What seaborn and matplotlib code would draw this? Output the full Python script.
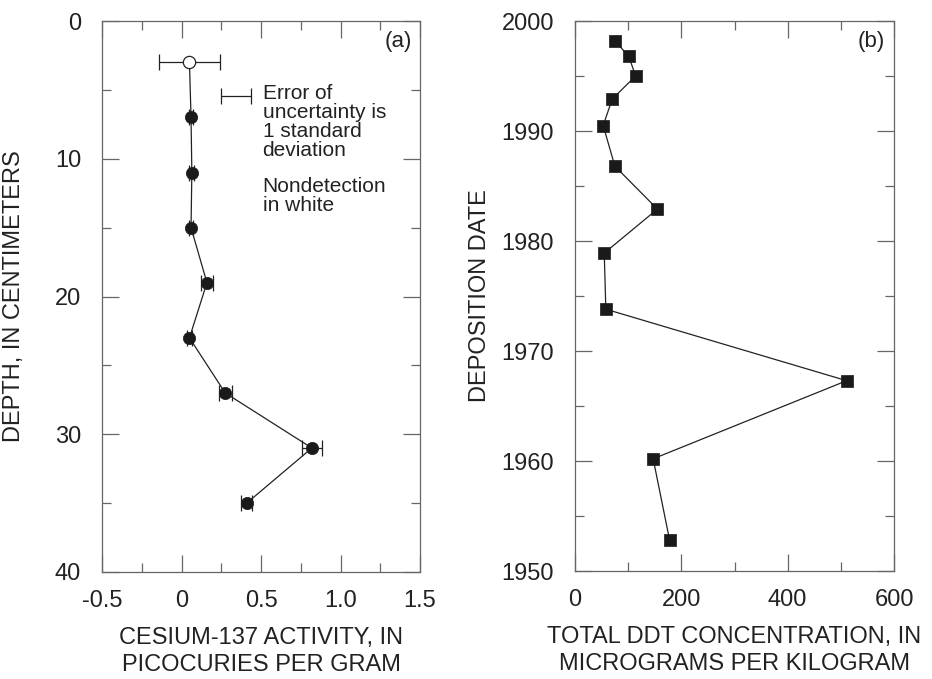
import matplotlib
matplotlib.use("Agg")
import matplotlib.pyplot as plt
from matplotlib.ticker import MultipleLocator
import seaborn as sns
import pandas as pd

# Panel (a): cesium-137 activity profile
depth_cm = [3, 7, 11, 15, 19, 23, 27, 31, 35]
cesium_pci_g = [0.05, 0.06, 0.065, 0.06, 0.16, 0.05, 0.275, 0.82, 0.41]
cesium_sd = [0.19, 0.015, 0.015, 0.015, 0.037, 0.015, 0.04, 0.063, 0.033]
detected = [False, True, True, True, True, True, True, True, True]

# Panel (b): total DDT by deposition date
deposition_year = [1998.2, 1996.8, 1995.0, 1992.9, 1990.5, 1986.8, 1982.9,
                   1978.9, 1973.8, 1967.3, 1960.2, 1952.8]
ddt_ug_kg = [75, 101, 114, 70, 53, 75, 155, 55, 58, 511, 147, 178]

sns.set_theme(style="ticks")
plt.rcParams["font.family"] = ["Liberation Sans", "DejaVu Sans"]
plt.rcParams["text.color"] = "#222222"
plt.rcParams["axes.labelcolor"] = "#222222"
plt.rcParams["xtick.color"] = "#666666"
plt.rcParams["ytick.color"] = "#666666"
plt.rcParams["xtick.labelcolor"] = "#222222"
plt.rcParams["ytick.labelcolor"] = "#222222"

FS_TICK = 17
FS_LABEL = 17
FS_NOTE = 15
FS_PANEL = 16
SPINE = "#666666"
INK = "#222222"

fig = plt.figure(figsize=(9.32, 6.79), dpi=100)
ax_a = fig.add_axes([102 / 932, 1 - 572 / 679, 318 / 932, 551 / 679])
ax_b = fig.add_axes([575 / 932, 1 - 571 / 679, 319 / 932, 550 / 679])

cs = pd.DataFrame({"depth": depth_cm, "cs": cesium_pci_g, "sd": cesium_sd,
                   "det": detected})
ddt = pd.DataFrame({"year": deposition_year, "ddt": ddt_ug_kg})

# --- panel (a)
ax_a.errorbar(cs["cs"], cs["depth"], xerr=cs["sd"], fmt="none",
              ecolor=INK, elinewidth=0.9, capsize=5.5, capthick=0.9,
              zorder=2)
sns.lineplot(data=cs, x="cs", y="depth", sort=False, estimator=None,
             color=INK, linewidth=0.9, ax=ax_a, zorder=3)
sns.scatterplot(data=cs[cs["det"]], x="cs", y="depth", color="#1a1a1a",
                s=78, edgecolor="#1a1a1a", linewidth=0.5, ax=ax_a, zorder=4)
sns.scatterplot(data=cs[~cs["det"]], x="cs", y="depth", color="white",
                s=78, edgecolor=INK, linewidth=0.9, ax=ax_a, zorder=4)

ax_a.set_xlim(-0.5, 1.5)
ax_a.set_ylim(40, 0)
ax_a.xaxis.set_minor_locator(MultipleLocator(0.25))
ax_a.yaxis.set_major_locator(MultipleLocator(10))
ax_a.yaxis.set_minor_locator(MultipleLocator(5))
ax_a.set_xticks([-0.5, 0, 0.5, 1.0, 1.5])
ax_a.set_xticklabels(["-0.5", "0", "0.5", "1.0", "1.5"])
ax_a.set_xlabel("CESIUM-137 ACTIVITY, IN\nPICOCURIES PER GRAM",
                fontsize=FS_LABEL, linespacing=1.3)
ax_a.set_ylabel("DEPTH, IN CENTIMETERS", fontsize=FS_LABEL)
ax_a.text(0.974, 0.982, "(a)", transform=ax_a.transAxes, ha="right",
          va="top", fontsize=FS_PANEL)

# error-bar key
ax_a.errorbar([0.34], [5.45], xerr=[0.094], fmt="none", ecolor=INK,
              elinewidth=0.9, capsize=5.5, capthick=0.9)
ax_a.text(0.51, 4.55, "Error of\nuncertainty is\n1 standard\ndeviation",
          ha="left", va="top", fontsize=FS_NOTE, linespacing=1.0)
ax_a.text(0.51, 11.3, "Nondetection\nin white", ha="left", va="top",
          fontsize=FS_NOTE, linespacing=1.0)

# --- panel (b)
sns.lineplot(data=ddt, x="ddt", y="year", sort=False, estimator=None,
             color=INK, linewidth=0.9, ax=ax_b, zorder=3)
sns.scatterplot(data=ddt, x="ddt", y="year", marker="s", color="#1a1a1a",
                s=78, edgecolor="#1a1a1a", linewidth=0.5, ax=ax_b, zorder=4)
ax_b.set_xlim(0, 600)
ax_b.set_ylim(1950, 2000)
ax_b.xaxis.set_major_locator(MultipleLocator(200))
ax_b.xaxis.set_minor_locator(MultipleLocator(100))
ax_b.yaxis.set_major_locator(MultipleLocator(10))
ax_b.yaxis.set_minor_locator(MultipleLocator(5))
ax_b.set_xlabel("TOTAL DDT CONCENTRATION, IN\nMICROGRAMS PER KILOGRAM",
                fontsize=FS_LABEL, linespacing=1.3)
ax_b.set_ylabel("DEPOSITION DATE", fontsize=FS_LABEL)
ax_b.text(0.972, 0.982, "(b)", transform=ax_b.transAxes, ha="right",
          va="top", fontsize=FS_PANEL)

for ax in (ax_a, ax_b):
    for sp in ax.spines.values():
        sp.set_visible(True)
        sp.set_color(SPINE)
        sp.set_linewidth(0.9)
    ax.tick_params(which="both", direction="in", top=True, right=True,
                   labelsize=FS_TICK, width=0.9, color=SPINE)
    ax.tick_params(which="major", length=12)
    ax.tick_params(which="minor", length=6.5)
    ax.tick_params(axis="x", which="major", pad=13)
    ax.tick_params(axis="y", which="major", pad=15)
    ax.set_facecolor("white")
    if ax.get_legend():
        ax.get_legend().remove()

ax_a.xaxis.set_label_coords(0.5, -0.1)
ax_b.xaxis.set_label_coords(0.5, -0.1)
ax_a.yaxis.set_label_coords(-0.242, 0.5)
ax_b.yaxis.set_label_coords(-0.263, 0.5)

fig.savefig("out.png", dpi=100, facecolor="white")
